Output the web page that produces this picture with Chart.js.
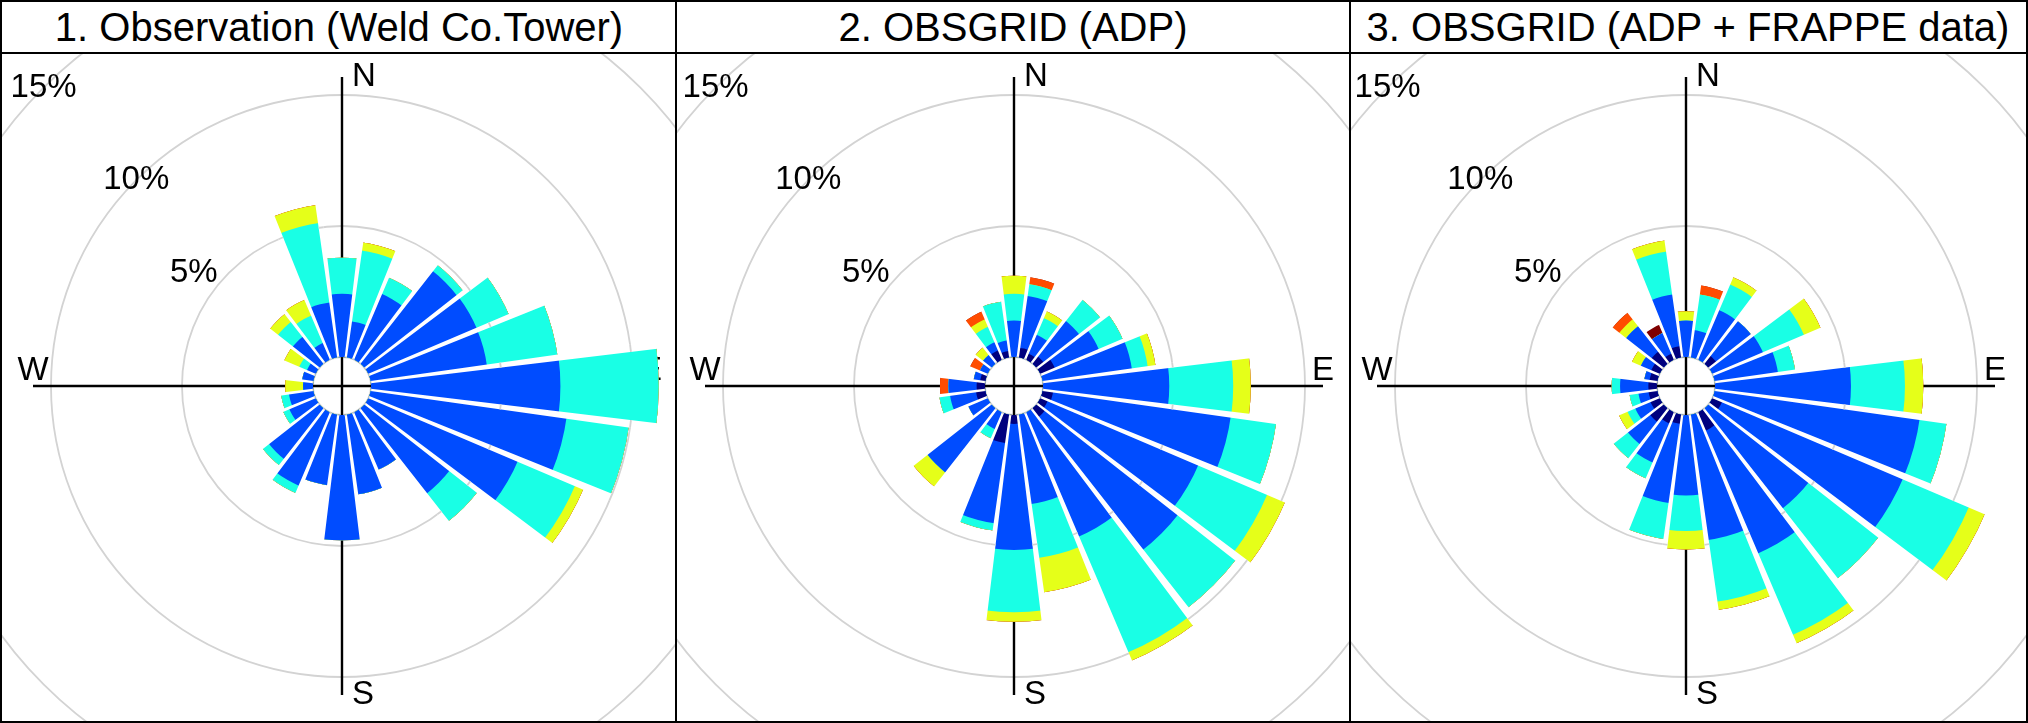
<!DOCTYPE html>
<html><head><meta charset="utf-8">
<script src="https://cdn.jsdelivr.net/npm/chart.js@4.4.0/dist/chart.umd.min.js"></script>
<style>
html,body{margin:0;padding:0;background:#fff;}
#fig{position:relative;width:2028px;height:723px;overflow:hidden;background:#fff;font-family:"Liberation Sans",Arial,sans-serif;}
.clip{position:absolute;overflow:hidden;}
.clip canvas{position:absolute;}
.line{position:absolute;background:#000;}
.title{position:absolute;top:2px;height:50px;line-height:50px;text-align:center;font-size:40px;color:#000;white-space:nowrap;}
</style></head>
<body><div id="fig"></div>
<script>
// ---------------- data ----------------
const DIRECTIONS = [0,15,30,45,60,75,90,105,120,135,150,165,180,195,210,225,240,255,270,285,300,315,330,345];
const SPEED_BINS = ['bin 1','bin 2','bin 3','bin 4','bin 5','bin 6'];
const BIN_COLOURS = ['#00007F','#004CFF','#19FFE5','#E5FF19','#FF4C00','#7F0000'];
const PANEL_TITLES = ['1. Observation (Weld Co.Tower)','2. OBSGRID (ADP)','3. OBSGRID (ADP + FRAPPE data)'];
const RING_TICKS = [5,10,15];

// panel 1 : observation (percent of time in each speed bin, per direction)
const obsBin1 = [0,0,0,0,0,0,0,0,0,0,0,0,0,0,0,0,0,0,0,0,0,0,0,0];
const obsBin2 = [2.41,1.39,2.72,4.48,4.49,4.48,7.23,7.55,6.19,4.12,2.37,3.07,4.78,2.72,3.04,2.45,1.09,0.94,0.38,0.43,0.36,1.30,0.69,2.12];
const obsBin3 = [1.38,2.73,0.68,0.29,1.33,2.72,3.75,2.40,2.38,1.34,0,0,0,0,0.30,0.30,0.25,0.30,0,0,0.32,0.72,1.14,3.06];
const obsBin4 = [0,0.31,0,0,0,0,0,0,0.34,0,0,0,0,0,0,0,0,0,0.68,0,0.62,0.38,0.65,0.69];
const obsBin5 = [0,0,0,0,0,0,0,0,0,0,0,0,0,0,0,0,0,0,0,0,0,0,0,0];
const obsBin6 = [0,0,0,0,0,0,0,0,0,0,0,0,0,0,0,0,0,0,0,0,0,0,0,0];

// panel 2 : OBSGRID (ADP)
const adpBin1 = [0,0.37,0.25,0.34,0.60,0,0,0.40,0.30,0.40,0,0,0.34,1.10,0,0,0,0.36,0.32,0.20,0,0,0.38,0.25];
const adpBin2 = [1.39,2.00,0.78,1.73,1.82,3.44,4.82,6.85,6.25,6.45,5.15,3.45,4.81,3.09,0.69,3.11,0.80,1.00,1.08,0.25,0.32,0.42,0.34,0.40];
const adpBin3 = [1.02,0.45,0.69,1.02,0.99,0.61,2.44,1.75,2.86,2.80,4.80,2.07,2.38,0.28,0.38,0,0,0.41,0,0,0,0,0.64,1.50];
const adpBin4 = [0.69,0,0.28,0,0,0.30,0.67,0,0.74,0,0.35,1.33,0.36,0,0,0.68,0,0,0,0,0,0.36,0.31,0];
const adpBin5 = [0,0.27,0,0,0,0,0,0,0,0,0,0,0,0,0,0,0,0,0.32,0,0.40,0,0.32,0];
const adpBin6 = [0,0,0,0,0,0,0,0,0,0,0,0,0,0,0,0,0,0,0,0,0,0,0,0];

// panel 3 : OBSGRID (ADP + FRAPPE data)
const frpBin1 = [0,0,0,0.37,0,0,0,0,0.40,0,0.75,0,0,0.36,0.46,0.65,0.38,0.34,0.33,0.30,0.35,0.58,0.25,0.43];
const frpBin2 = [1.39,1.05,2.05,1.69,2.10,2.44,5.19,7.90,7.50,4.85,5.10,4.83,3.07,3.05,1.62,1.08,0.63,0.39,1.08,0.20,0.43,1.24,0.85,2.00];
const frpBin3 = [0,1.38,1.07,0,1.70,0.66,2.06,1.04,2.74,3.39,3.38,2.38,1.36,1.38,0.66,0.69,0.32,0.34,0.32,0,0,0,0,1.65];
const frpBin4 = [0.36,0,0.30,0,0.69,0,0.70,0,0.66,0,0.35,0.32,0.70,0,0,0,0.35,0,0,0,0.37,0.33,0,0.42];
const frpBin5 = [0,0.34,0,0,0,0,0,0,0,0,0,0,0,0,0,0,0,0,0,0,0,0.32,0,0];
const frpBin6 = [0,0,0,0,0,0,0,0,0,0,0,0,0,0,0,0,0,0,0,0,0,0,0.34,0];

const PANELS = [
  [obsBin1,obsBin2,obsBin3,obsBin4,obsBin5,obsBin6],
  [adpBin1,adpBin2,adpBin3,adpBin4,adpBin5,adpBin6],
  [frpBin1,frpBin2,frpBin3,frpBin4,frpBin5,frpBin6]
];

// ---------------- layout ----------------
const PANEL_EDGES = [2, 676, 1350, 2026];
const STRIP_BOTTOM = 52;
const CENTERS_X = [342, 1014, 1686];
const CENTER_Y = 386;
const R_CANVAS = 440;
const HOLE_PX = 29;
const PX_PER_PCT = 26.2;
const R_MIN = -HOLE_PX / PX_PER_PCT;
const R_MAX = R_MIN + R_CANVAS / PX_PER_PCT;
const AXIS_EXTENT = (309 - HOLE_PX) / PX_PER_PCT;
const LABEL_FONT = '33px "Liberation Sans", Arial, sans-serif';
const RING_LABEL_SHIFT_X = {5: -35, 10: 0, 15: 0};

const fig = document.getElementById('fig');
function addLine(x,y,w,h){const d=document.createElement('div');d.className='line';Object.assign(d.style,{left:x+'px',top:y+'px',width:w+'px',height:h+'px'});fig.appendChild(d);}

const roseDecor = {
  id: 'roseDecor',
  afterDatasetUpdate(chart, args) {
    const s = chart.scales.r;
    const r0 = s.getDistanceFromCenterForValue(0);
    args.meta.data.forEach(a => { a.innerRadius = r0; });
  },
  beforeDatasetsDraw(chart) {
    const ctx = chart.ctx, s = chart.scales.r;
    const cx = s.xCenter, cy = s.yCenter;
    const L = s.getDistanceFromCenterForValue(AXIS_EXTENT);
    ctx.save();
    ctx.strokeStyle = '#000'; ctx.lineWidth = 2.4;
    ctx.beginPath();
    ctx.moveTo(cx - L, cy); ctx.lineTo(cx + L, cy);
    ctx.moveTo(cx, cy - L); ctx.lineTo(cx, cy + L);
    ctx.stroke();
    ctx.fillStyle = '#000'; ctx.font = LABEL_FONT;
    ctx.textAlign = 'left'; ctx.textBaseline = 'middle';
    ctx.fillText('N', cx + 10, cy - L);
    ctx.fillText('S', cx + 10, cy + L);
    ctx.textAlign = 'center'; ctx.textBaseline = 'alphabetic';
    ctx.fillText('W', cx - L, cy - 6);
    ctx.fillText('E', cx + L, cy - 6);
    ctx.textBaseline = 'middle';
    RING_TICKS.forEach(v => {
      const d = s.getDistanceFromCenterForValue(v) * Math.SQRT1_2;
      ctx.fillText(v + '%', cx - d + (RING_LABEL_SHIFT_X[v] || 0), cy - d);
    });
    ctx.restore();
  },
  afterDatasetsDraw(chart) {
    const ctx = chart.ctx, s = chart.scales.r;
    const cx = s.xCenter, cy = s.yCenter;
    const r0 = s.getDistanceFromCenterForValue(0);
    const totals = chart.data.datasets[chart.data.datasets.length - 1].data;
    const n = totals.length;
    ctx.save();
    ctx.beginPath();
    for (let i = 0; i < n; i++) {
      const outer = Math.max(totals[i], totals[(i + 1) % n]);
      const rb = s.getDistanceFromCenterForValue(outer) + 3;
      const ra = r0;
      const c = (7.5 + 15 * i - 90) * Math.PI / 180;
      const ux = Math.cos(c), uy = Math.sin(c), px = -uy, py = ux;
      const wa = 0.82 + 0.0104 * ra, wb = 0.82 + 0.0104 * rb;
      ctx.moveTo(cx + ux * ra + px * wa, cy + uy * ra + py * wa);
      ctx.lineTo(cx + ux * rb + px * wb, cy + uy * rb + py * wb);
      ctx.lineTo(cx + ux * rb - px * wb, cy + uy * rb - py * wb);
      ctx.lineTo(cx + ux * ra - px * wa, cy + uy * ra - py * wa);
      ctx.closePath();
    }
    ctx.fillStyle = '#fff';
    ctx.fill();
    ctx.clip();
    s.drawGrid();
    ctx.restore();
  }
};

PANELS.forEach((bins, p) => {
  const x0 = PANEL_EDGES[p], x1 = PANEL_EDGES[p + 1];
  const t = document.createElement('div');
  t.className = 'title'; t.textContent = PANEL_TITLES[p];
  t.style.left = x0 + 'px'; t.style.width = (x1 - x0) + 'px';
  fig.appendChild(t);
  const clip = document.createElement('div');
  clip.className = 'clip';
  const top = STRIP_BOTTOM + 1;
  Object.assign(clip.style, {left: x0 + 'px', top: top + 'px', width: (x1 - x0) + 'px', height: (721 - top) + 'px'});
  const cv = document.createElement('canvas');
  cv.width = 2 * R_CANVAS; cv.height = 2 * R_CANVAS;
  cv.style.left = (CENTERS_X[p] - R_CANVAS - x0) + 'px';
  cv.style.top = (CENTER_Y - R_CANVAS - top) + 'px';
  clip.appendChild(cv);
  fig.appendChild(clip);

  const datasets = [];
  let run = DIRECTIONS.map(() => 0);
  bins.forEach((b, k) => {
    run = run.map((v, j) => v + b[j]);
    datasets.push({label: SPEED_BINS[k], data: run.slice(), backgroundColor: BIN_COLOURS[k], borderWidth: 0});
  });

  new Chart(cv, {
    type: 'polarArea',
    data: {labels: DIRECTIONS.map(String), datasets},
    options: {
      responsive: false, animation: false, devicePixelRatio: 1,
      layout: {padding: 0},
      plugins: {legend: {display: false}, tooltip: {enabled: false}},
      scales: {
        r: {
          min: R_MIN, max: R_MAX, startAngle: -7.5,
          ticks: {display: false},
          afterBuildTicks: sc => { sc.ticks = [R_MIN, 0].concat(RING_TICKS).map(v => ({value: v})); },
          grid: {circular: true, color: '#D3D3D3', lineWidth: 1.8},
          angleLines: {display: false},
          pointLabels: {display: false}
        }
      }
    },
    plugins: [roseDecor]
  });
});

addLine(0, 0, 2028, 2);
addLine(0, 721, 2028, 2);
addLine(0, 0, 2, 723);
addLine(2026, 0, 2, 723);
addLine(0, STRIP_BOTTOM, 2028, 2);
addLine(675, 0, 2, 723);
addLine(1349, 0, 2, 723);
</script>
</body></html>
